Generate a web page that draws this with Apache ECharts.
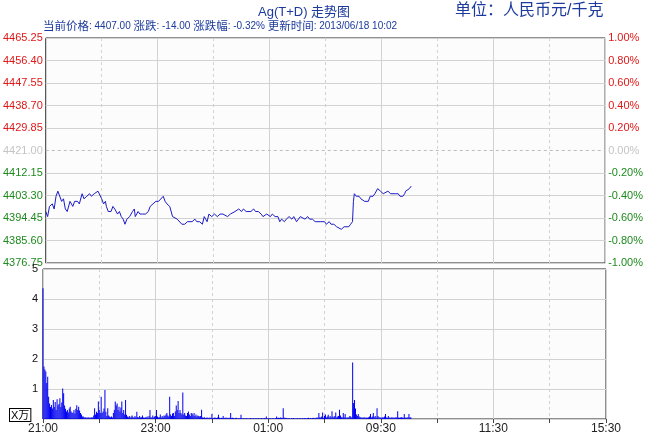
<!DOCTYPE html>
<html><head><meta charset="utf-8">
<script src="https://cdn.jsdelivr.net/npm/echarts@6/dist/echarts.min.js"></script>
<style>html,body{margin:0;padding:0;background:#fff}#c{width:646px;height:436px}</style>
</head><body><div id="c"></div>
<script>
// ---- data ----
var chartTitle = 'Ag(T+D) 走势图';
var unitText = '单位：人民币元/千克';
var currentPrice = 4407.00, priceChange = -14.00, changePct = -0.32, updateTime = '2013/06/18 10:02';
var prevClose = 4421.00;
var priceMin = 4376.75, priceMax = 4465.25, priceStep = 8.85;
var timeLabels = ['21:00', '23:00', '01:00', '09:30', '11:30', '15:30'];
var volumeUnit = 'X万';
// minutes since 21:00 along the trading timeline (600 minutes total)
var priceTimes = [0,2,4,7,9,11,13,15,17,19,
  21,23,25,26,29,31,34,36,39,41,
  44,47,49,52,54,56,58,60,62,64,
  65,67,70,72,74,77,79,81,83,85,
  87,90,93,95,96,99,101,104,107,110,
  112,115,118,121,123,126,128,130,133,136,
  138,141,143,146,149,152,154,157,160,162,
  165,168,170,173,175,178,181,184,187,190,
  192,195,198,200,203,207,210,212,215,217,
  220,223,225,228,231,233,237,241,243,246,
  249,251,253,256,258,261,264,266,269,273,
  275,278,281,283,286,289,291,295,299,301,
  304,306,309,312,314,317,320,322,325,327,
  329,330,331,333,336,338,342,346,348,351,
  353,356,359,362,364,367,370,372,375,378,
  380,383,385,386,388,390,392];
var priceValues = [4397,4395,4399,4400,4398,4403,4405,4405,4401,4402,
  4398,4397,4397,4401,4399,4401,4401,4400,4404,4402,
  4403,4404,4403,4404,4404,4405,4405,4402,4400,4401,
  4399,4397,4397,4399,4398,4396,4397,4395,4394,4392,
  4394,4395,4397,4398,4395,4397,4396,4396,4396,4397,
  4399,4400,4401,4401,4401,4403,4401,4400,4399,4395,
  4395,4394,4394,4392,4392,4393,4393,4393,4394,4393,
  4393,4392,4395,4393,4396,4395,4396,4395,4396,4396,
  4396,4395,4396,4396,4397,4398,4397,4398,4397,4397,
  4397,4398,4397,4397,4396,4395,4396,4395,4396,4395,
  4395,4393,4394,4393,4394,4395,4394,4395,4393,4395,
  4395,4394,4395,4394,4394,4393,4393,4393,4393,4392,
  4393,4392,4392,4391,4391,4390,4391,4391,4391,4392,
  4393,4401,4404,4403,4403,4402,4401,4401,4403,4403,
  4404,4406,4405,4404,4404,4405,4404,4404,4404,4404,
  4403,4403,4404,4405,4405,4406,4407];
// volume per minute (x 10,000), minute 0..392
var volumes = [
  4.36,1.75,1.65,1.58,1.20,1.41,0.74,0.52,0.40,0.47,
  0.35,0.63,0.40,0.57,0.30,0.66,0.45,0.50,0.69,0.40,
  0.55,1.02,0.86,0.45,0.34,0.25,0.30,0.22,0.35,0.41,
  0.25,0.20,0.22,0.30,0.18,0.34,0.46,0.30,0.41,0.28,
  0.20,0.15,0.08,0.08,0.05,0.06,0.05,0.04,0.06,0.05,
  0.04,0.05,0.06,0.05,0.12,0.36,0.15,0.24,0.20,0.58,
  0.30,0.20,0.74,0.20,0.25,0.35,0.97,0.24,0.10,0.36,
  0.12,0.08,0.06,0.08,0.05,0.20,0.30,0.58,0.45,0.52,
  0.30,0.41,0.25,0.38,0.58,0.20,0.30,0.15,0.63,0.14,
  0.08,0.06,0.10,0.05,0.08,0.12,0.06,0.05,0.10,0.06,
  0.24,0.07,0.05,0.10,0.05,0.06,0.12,0.05,0.04,0.06,
  0.05,0.08,0.04,0.10,0.30,0.06,0.05,0.12,0.05,0.08,
  0.10,0.30,0.08,0.05,0.06,0.15,0.05,0.10,0.06,0.12,
  0.10,0.15,0.20,0.12,0.08,0.74,0.15,0.10,0.18,0.20,
  0.10,0.25,0.45,0.30,0.60,0.20,0.30,0.20,0.15,0.88,
  0.15,0.20,0.12,0.10,0.20,0.25,0.15,0.10,0.20,0.18,
  0.12,0.20,0.10,0.15,0.08,0.12,0.10,0.08,0.10,0.31,
  0.05,0.04,0.06,0.03,0.04,0.05,0.03,0.04,0.05,0.03,
  0.17,0.04,0.03,0.05,0.04,0.03,0.05,0.14,0.04,0.03,
  0.04,0.03,0.10,0.04,0.03,0.05,0.03,0.04,0.03,0.04,
  0.20,0.03,0.04,0.03,0.02,0.03,0.04,0.02,0.03,0.02,
  0.03,0.14,0.03,0.02,0.03,0.02,0.02,0.03,0.02,0.02,
  0.02,0.03,0.02,0.02,0.03,0.02,0.02,0.03,0.02,0.02,
  0.03,0.02,0.02,0.03,0.02,0.02,0.03,0.02,0.08,0.02,
  0.03,0.02,0.03,0.02,0.02,0.03,0.02,0.02,0.03,0.08,
  0.03,0.04,0.03,0.05,0.04,0.03,0.36,0.05,0.03,0.04,
  0.03,0.02,0.03,0.02,0.02,0.03,0.02,0.03,0.02,0.02,
  0.02,0.03,0.02,0.02,0.03,0.02,0.02,0.03,0.02,0.03,
  0.03,0.02,0.03,0.04,0.02,0.03,0.02,0.03,0.04,0.03,
  0.03,0.04,0.05,0.04,0.20,0.06,0.05,0.08,0.22,0.04,
  0.10,0.15,0.05,0.08,0.14,0.05,0.10,0.06,0.26,0.08,
  0.06,0.10,0.22,0.05,0.08,0.10,0.31,0.12,0.06,0.05,
  0.20,0.06,0.17,0.05,0.04,0.06,0.05,0.10,0.08,0.05,
  1.88,0.53,0.63,0.35,0.15,0.10,0.17,0.08,0.06,0.05,
  0.05,0.04,0.06,0.05,0.04,0.05,0.04,0.06,0.08,0.17,
  0.05,0.08,0.20,0.06,0.10,0.05,0.36,0.10,0.06,0.05,
  0.05,0.04,0.06,0.05,0.08,0.17,0.05,0.04,0.10,0.05,
  0.04,0.05,0.06,0.04,0.05,0.04,0.06,0.05,0.26,0.05,
  0.04,0.05,0.06,0.05,0.04,0.17,0.05,0.04,0.05,0.06,
  0.17,0.05,0.06];

// ---- chart ----
var RED = '#e01818', GREEN = '#1e8a1e', GRAY = '#c4c4c4', GRID = '#d2d2d2';
var numFont = '"Liberation Sans", Arial, sans-serif';
var cjkFont = '"Liberation Sans", "Noto Sans CJK SC", sans-serif';
var TOTAL = 600;

function priceColor(v) {
  if (Math.abs(v - prevClose) < 1e-6) return GRAY;
  return v > prevClose ? RED : GREEN;
}
function pctColor(v) {
  if (Math.abs(v) < 1e-9) return GRAY;
  return v > 0 ? RED : GREEN;
}

var priceData = priceTimes.map(function (t, i) { return [t, priceValues[i]]; });
var volData = volumes.map(function (v, i) { return [i, v]; });

var splitColors = [];
for (var k = 0; k <= 10; k++) splitColors.push(k === 5 ? 'transparent' : GRID);

var infoRich = '{c|当前价格}{n|: ' + currentPrice.toFixed(2) + ' }{c|涨跌}{n|: ' + priceChange.toFixed(2) +
  ' }{c|涨跌幅}{n|: ' + changePct.toFixed(2) + '% }{c|更新时间}{n|: ' + updateTime + '}';

function solidX(grid, withLabels) {
  return {
    type: 'value', gridIndex: grid, min: 0, max: TOTAL, interval: 120, position: 'bottom',
    axisLine: { show: false },
    axisTick: { show: withLabels, length: 4, lineStyle: { color: '#444' } },
    axisLabel: withLabels ? {
      show: true, margin: 4, color: '#222', fontSize: 12, fontFamily: numFont,
      formatter: function (v) { return timeLabels[Math.round(v / 120)] || ''; }
    } : { show: false },
    splitLine: { show: true, lineStyle: { color: GRID, width: 1 } }
  };
}
function dashX(grid, withTicks) {
  return {
    type: 'value', gridIndex: grid, min: 0, max: TOTAL, interval: 60, position: 'bottom',
    axisLine: { show: false },
    axisTick: { show: withTicks, length: 4, lineStyle: { color: '#444' } },
    axisLabel: { show: false },
    splitLine: { show: true, lineStyle: { color: ['transparent', GRID], type: [3, 3], width: 1 } }
  };
}

var option = {
  backgroundColor: '#ffffff',
  animation: false,
  grid: [
    { left: 43, top: 38, width: 563, height: 225, show: true, borderColor: '#222', borderWidth: 1, backgroundColor: '#fcfcfc' },
    { left: 43, top: 269, width: 563, height: 150, show: true, borderColor: '#222', borderWidth: 1, backgroundColor: '#fcfcfc' }
  ],
  xAxis: [ dashX(0, false), solidX(0, false), solidX(1, true), dashX(1, true) ],
  yAxis: [
    { type: 'value', gridIndex: 0, position: 'left', min: priceMin, max: priceMax, interval: priceStep,
      axisLine: { show: false }, axisTick: { show: false },
      axisLabel: { margin: 3, fontSize: 11, fontFamily: numFont,
        formatter: function (v) { return v.toFixed(2); },
        color: function (v) { return priceColor(+v); } },
      splitLine: { show: true, lineStyle: { color: splitColors, width: 1 } } },
    { type: 'value', gridIndex: 0, position: 'right', min: -1, max: 1, interval: 0.2,
      axisLine: { show: false }, axisTick: { show: false },
      axisLabel: { margin: 3, fontSize: 11, fontFamily: numFont,
        formatter: function (v) { return (Math.abs(v) < 1e-9 ? 0 : v).toFixed(2) + '%'; },
        color: function (v) { return pctColor(+v); } },
      splitLine: { show: false } },
    { type: 'value', gridIndex: 1, position: 'left', min: 0, max: 5, interval: 1,
      axisLine: { show: false }, axisTick: { show: false },
      axisLabel: { margin: 5, fontSize: 11, fontFamily: numFont, color: '#111',
        formatter: function (v) { return v === 0 ? '' : String(v); } },
      splitLine: { show: true, lineStyle: { color: GRID, width: 1 } } }
  ],
  series: [
    { type: 'line', xAxisIndex: 1, yAxisIndex: 0, data: priceData, showSymbol: false,
      lineStyle: { color: '#1a1ac8', width: 1 }, itemStyle: { color: '#1a1ac8' },
      markLine: { silent: true, symbol: 'none', label: { show: false },
        lineStyle: { color: '#bdbdbd', type: [3, 3], width: 1 },
        data: [{ yAxis: prevClose }] } },
    { type: 'bar', xAxisIndex: 2, yAxisIndex: 2, data: volData, barWidth: 1,
      itemStyle: { color: '#0000f0' } }
  ],
  graphic: [
    { type: 'text', left: 258, top: 6, style: { text: chartTitle, font: '13px ' + cjkFont, fill: '#1c3a9c' } },
    { type: 'text', left: 455, top: 3, style: { text: unitText, font: '16px ' + cjkFont, fill: '#1c3a9c' } },
    { type: 'text', left: 43, top: 21, style: { text: infoRich, fill: '#1c3a9c',
        rich: { c: { fontSize: 11.5, fontFamily: cjkFont, fill: '#1c3a9c' },
                n: { fontSize: 10, fontFamily: numFont, fill: '#1c3a9c' } } } },
    { type: 'text', left: 9, top: 408, style: { text: volumeUnit, font: '11px ' + cjkFont, fill: '#000',
        backgroundColor: '#fff', borderColor: '#000', borderWidth: 1, padding: [1, 1, 0, 1] } }
  ]
};
var chart = echarts.init(document.getElementById('c'), null, { renderer: 'canvas' });
chart.setOption(option);
</script></body></html>
